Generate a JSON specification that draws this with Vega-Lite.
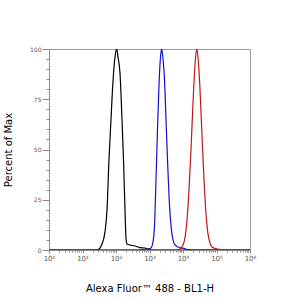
{
  "$schema": "https://vega.github.io/schema/vega-lite/v6.json",
  "width": 201,
  "height": 201,
  "autosize": {"type": "none"},
  "padding": {"left": 49, "top": 49, "right": 53, "bottom": 51},
  "background": "white",
  "config": {
    "view": {"stroke": "#9a9a9a", "strokeWidth": 1},
    "font": "DejaVu Sans"
  },
  "data": {
    "values": [
      {"s": "A", "x": 1, "y": 0},
      {"s": "A", "x": 23.6, "y": 0},
      {"s": "A", "x": 31.1, "y": 0.5},
      {"s": "A", "x": 38.2, "y": 3},
      {"s": "A", "x": 46.9, "y": 9},
      {"s": "A", "x": 53.9, "y": 20},
      {"s": "A", "x": 61.8, "y": 45},
      {"s": "A", "x": 70.9, "y": 65},
      {"s": "A", "x": 81.4, "y": 84},
      {"s": "A", "x": 93.3, "y": 96},
      {"s": "A", "x": 104.9, "y": 100},
      {"s": "A", "x": 114.7, "y": 96},
      {"s": "A", "x": 131.6, "y": 88},
      {"s": "A", "x": 151.1, "y": 65},
      {"s": "A", "x": 167.4, "y": 45},
      {"s": "A", "x": 185.6, "y": 20},
      {"s": "A", "x": 198.8, "y": 6},
      {"s": "A", "x": 213.0, "y": 3},
      {"s": "A", "x": 261.8, "y": 2.5},
      {"s": "A", "x": 369.2, "y": 2},
      {"s": "A", "x": 520.5, "y": 1.2},
      {"s": "A", "x": 733.9, "y": 1},
      {"s": "A", "x": 902.0, "y": 0.5},
      {"s": "A", "x": 1187, "y": 0},
      {"s": "A", "x": 1000000, "y": 0},
      {"s": "B", "x": 1, "y": 0},
      {"s": "B", "x": 300, "y": 0},
      {"s": "B", "x": 902, "y": 0.5},
      {"s": "B", "x": 1108, "y": 1},
      {"s": "B", "x": 1272, "y": 4},
      {"s": "B", "x": 1410, "y": 12},
      {"s": "B", "x": 1563, "y": 35},
      {"s": "B", "x": 1733, "y": 60},
      {"s": "B", "x": 1921, "y": 82},
      {"s": "B", "x": 2130, "y": 96},
      {"s": "B", "x": 2313, "y": 100},
      {"s": "B", "x": 2529, "y": 95},
      {"s": "B", "x": 2804, "y": 85},
      {"s": "B", "x": 3108, "y": 65},
      {"s": "B", "x": 3446, "y": 45},
      {"s": "B", "x": 3820, "y": 27},
      {"s": "B", "x": 4384, "y": 12},
      {"s": "B", "x": 5030, "y": 5},
      {"s": "B", "x": 5772, "y": 2.5},
      {"s": "B", "x": 7090, "y": 1.5},
      {"s": "B", "x": 8715, "y": 1},
      {"s": "B", "x": 10713, "y": 0.8},
      {"s": "B", "x": 14100, "y": 0.2},
      {"s": "B", "x": 22815, "y": 0},
      {"s": "B", "x": 1000000, "y": 0},
      {"s": "C", "x": 1, "y": 0},
      {"s": "C", "x": 6180, "y": 0},
      {"s": "C", "x": 8140, "y": 0.5},
      {"s": "C", "x": 10000, "y": 2.5},
      {"s": "C", "x": 11470, "y": 6},
      {"s": "C", "x": 13160, "y": 15},
      {"s": "C", "x": 15110, "y": 30},
      {"s": "C", "x": 17330, "y": 50},
      {"s": "C", "x": 19880, "y": 73},
      {"s": "C", "x": 22820, "y": 92},
      {"s": "C", "x": 25650, "y": 100},
      {"s": "C", "x": 28040, "y": 96},
      {"s": "C", "x": 32170, "y": 80},
      {"s": "C", "x": 36920, "y": 57},
      {"s": "C", "x": 42360, "y": 35},
      {"s": "C", "x": 48610, "y": 18},
      {"s": "C", "x": 55770, "y": 8},
      {"s": "C", "x": 63980, "y": 3.5},
      {"s": "C", "x": 73390, "y": 1.5},
      {"s": "C", "x": 90200, "y": 0.8},
      {"s": "C", "x": 127200, "y": 0.3},
      {"s": "C", "x": 179400, "y": 0},
      {"s": "C", "x": 1000000, "y": 0}
    ]
  },
  "mark": {"type": "line", "interpolate": "monotone", "strokeWidth": 1.2, "clip": true},
  "encoding": {
    "x": {
      "field": "x",
      "type": "quantitative",
      "scale": {"type": "log", "domain": [1, 1000000], "nice": false},
      "axis": {
        "title": "Alexa Fluor™ 488 - BL1-H",
        "titleFont": "DejaVu Sans",
        "titleFontSize": 10,
        "titleFontWeight": "normal",
        "titleColor": "#000",
        "titlePadding": 22,
        "values": [1,2,3,4,5,6,7,8,9,10,20,30,40,50,60,70,80,90,100,200,300,400,500,600,700,800,900,1000,2000,3000,4000,5000,6000,7000,8000,9000,10000,20000,30000,40000,50000,60000,70000,80000,90000,100000,200000,300000,400000,500000,600000,700000,800000,900000,1000000],
        "labelExpr": "indexof([1,10,100,1000,10000,100000,1000000], datum.value) >= 0 ? '10' + ['⁰','¹','²','³','⁴','⁵','⁶'][indexof([1,10,100,1000,10000,100000,1000000], datum.value)] : ''",
        "labelOverlap": false,
        "labelFlush": false,
        "labelFontSize": 7,
        "labelColor": "#555",
        "labelPadding": 1,
        "domainColor": "#8a8a8a",
        "tickColor": "#8a8a8a",
        "tickSize": {"condition": {"test": "indexof([1,10,100,1000,10000,100000,1000000], datum.value) >= 0", "value": 3}, "value": 2},
        "grid": false
      }
    },
    "y": {
      "field": "y",
      "type": "quantitative",
      "scale": {"domain": [0, 100], "nice": false},
      "axis": {
        "title": "Percent of Max",
        "titleFont": "DejaVu Sans",
        "titleFontSize": 10,
        "titleFontWeight": "normal",
        "titleColor": "#000",
        "titlePadding": 16,
        "values": [0,5,10,15,20,25,30,35,40,45,50,55,60,65,70,75,80,85,90,95,100],
        "labelExpr": "datum.value % 25 === 0 ? datum.label : ''",
        "labelFontSize": 6,
        "labelColor": "#555",
        "labelPadding": 1,
        "labelOverlap": false,
        "domainColor": "#8a8a8a",
        "tickColor": "#8a8a8a",
        "tickSize": {"condition": {"test": "datum.value % 25 === 0", "value": 7}, "value": 3},
        "grid": false
      }
    },
    "color": {
      "field": "s",
      "type": "nominal",
      "scale": {"domain": ["A", "B", "C"], "range": ["#000000", "#1010d0", "#c01818"]},
      "legend": null
    },
    "order": {"field": "x", "type": "quantitative"}
  }
}
